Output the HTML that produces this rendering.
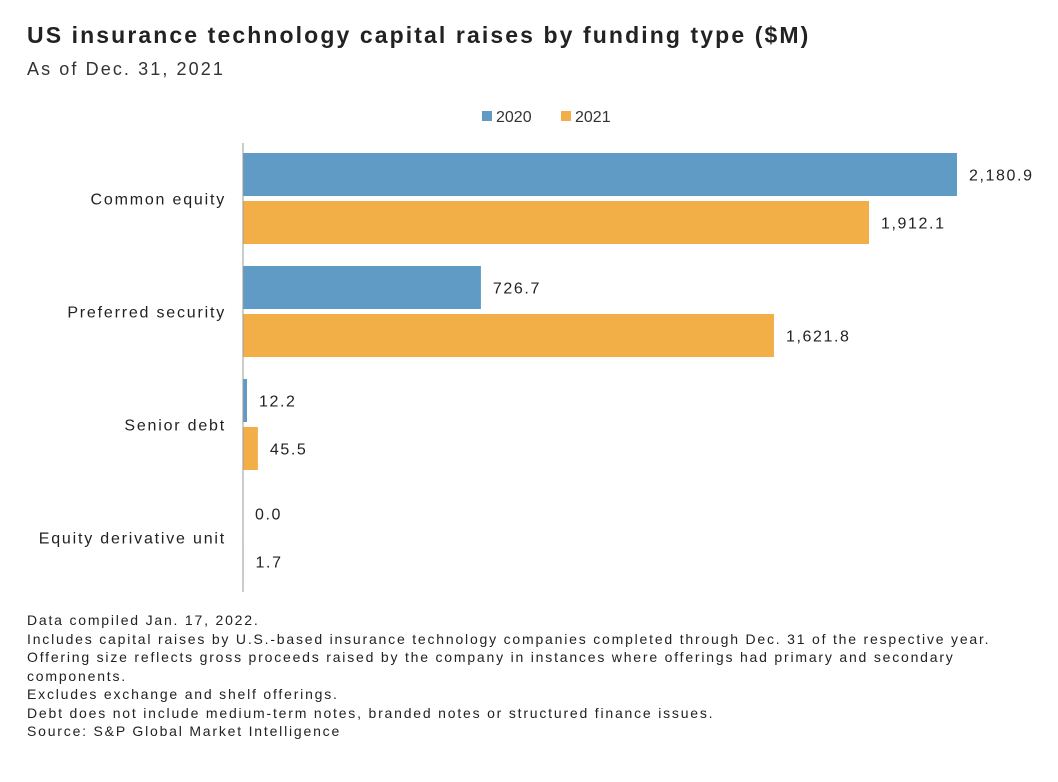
<!DOCTYPE html>
<html><head><meta charset="utf-8"><style>
body{margin:0;background:#fff;font-family:"Liberation Sans",sans-serif;color:#222;}
#wrap{position:relative;width:1058px;height:782px;overflow:hidden;}
.t{position:absolute;white-space:nowrap;}
</style></head><body>
<div id="wrap">
<div class="t" style="left:27px;top:22px;font-size:23px;font-weight:bold;color:#222;letter-spacing:2.1px;">US insurance technology capital raises by funding type ($M)</div>
<div class="t" style="left:27px;top:59px;font-size:18px;color:#333;letter-spacing:2.1px;">As of Dec. 31, 2021</div>
<svg id="chart" width="1058" height="600" style="position:absolute;left:0;top:0;font-family:'Liberation Sans',sans-serif;"></svg>
<div class="t" style="left:27px;top:611px;font-size:14px;line-height:18.5px;color:#222;letter-spacing:1.8px;">Data compiled Jan. 17, 2022.<br>Includes capital raises by U.S.-based insurance technology companies completed through Dec. 31 of the respective year.<br>Offering size reflects gross proceeds raised by the company in instances where offerings had primary and secondary<br>components.<br>Excludes exchange and shelf offerings.<br>Debt does not include medium-term notes, branded notes or structured finance issues.<br>Source: S&amp;P Global Market Intelligence</div>
</div>
<script>
const categories=["Common equity","Preferred security","Senior debt","Equity derivative unit"];
const values2020=[2180.9,726.7,12.2,0.0];
const values2021=[1912.1,1621.8,45.5,1.7];
const seriesNames=["2020","2021"];
const colors=["#5f9bc4","#f2ae47"];
const NS="http://www.w3.org/2000/svg";
const svg=document.getElementById('chart');
const x0=243,scale=(957-243)/2180.9;
const xs=v=>x0+v*scale;
const groupTop=i=>153+i*113;
const barH=43,gap=5;
function mk(tag,attrs){const e=document.createElementNS(NS,tag);for(const k in attrs)e.setAttribute(k,attrs[k]);svg.appendChild(e);return e;}
const fmt=v=>v.toLocaleString('en-US',{minimumFractionDigits:1,maximumFractionDigits:1});
seriesNames.forEach((n,i)=>{
 const lx=482+i*79;
 const r=mk('rect',{x:lx,y:111,width:10,height:10,fill:colors[i]});
 
 
 const t=mk('text',{x:lx+14,y:122,'font-size':16,fill:'#333'});t.textContent=n;
 
 
});
categories.forEach((c,i)=>{
 const gy=groupTop(i);
 const lab=mk('text',{x:226,y:gy+barH+gap/2+6,'font-size':16,'text-anchor':'end',fill:'#222','letter-spacing':1.8});lab.textContent=c;
 
 
 [values2020[i],values2021[i]].forEach((v,s)=>{
  const y=gy+s*(barH+gap);
  const w=xs(v)-x0;
  const r=mk('rect',{x:x0,y:y,width:Math.max(w,0),height:barH,fill:colors[s]});
  
  
  const t=mk('text',{x:xs(v)+12,y:y+barH/2+6,'font-size':16,fill:'#222','letter-spacing':1.6});t.textContent=fmt(v);
  
  
 });
});
const ax=mk('line',{x1:x0,y1:143,x2:x0,y2:592,stroke:'#999','stroke-width':1});


</script>
</body></html>
